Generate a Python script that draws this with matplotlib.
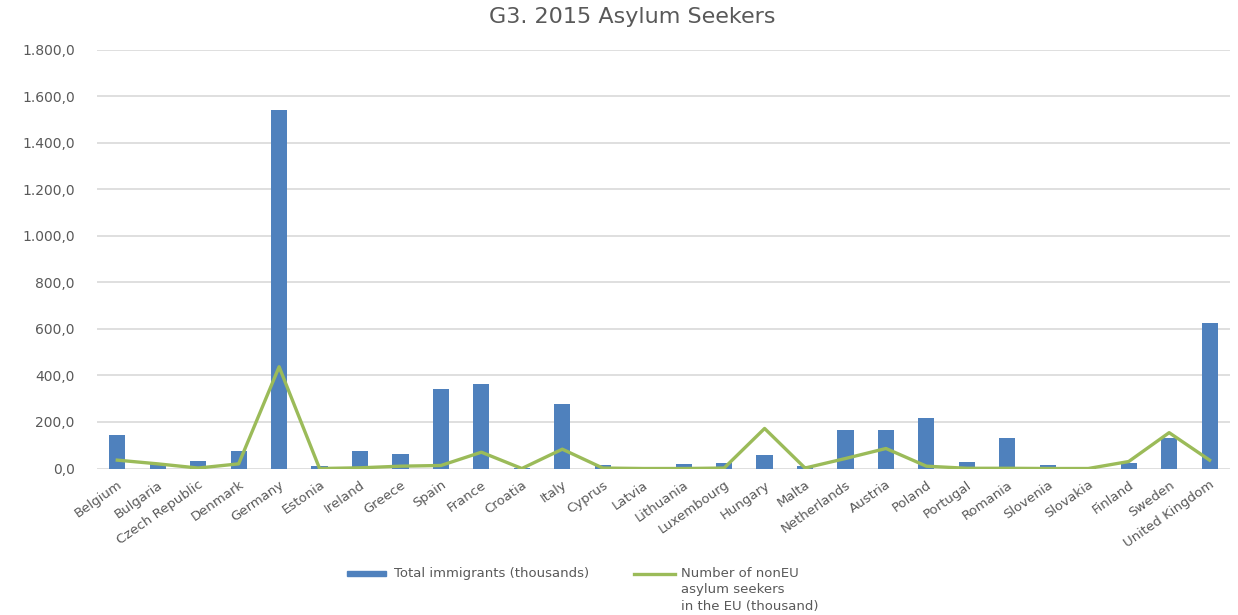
import matplotlib.pyplot as plt
import numpy as np
from matplotlib.ticker import FuncFormatter
from matplotlib.patches import Rectangle
from matplotlib.lines import Line2D

countries = ['Belgium', 'Bulgaria', 'Czech Republic', 'Denmark', 'Germany', 'Estonia',
             'Ireland', 'Greece', 'Spain', 'France', 'Croatia', 'Italy', 'Cyprus', 'Latvia',
             'Lithuania', 'Luxembourg', 'Hungary', 'Malta', 'Netherlands', 'Austria',
             'Poland', 'Portugal', 'Romania', 'Slovenia', 'Slovakia', 'Finland', 'Sweden',
             'United Kingdom']

# thousands of people
total_immigrants = [142, 22, 31, 76, 1542, 12, 76, 63, 340, 362, 1, 278, 14, 8,
                    18, 25, 58, 12, 165, 165, 215, 28, 132, 13, 7, 24, 130, 626]
asylum_seekers = [36, 20, 2, 20, 437, 0, 3, 10, 13, 70, 0, 83, 2, 0,
                  0, 2, 172, 2, 43, 86, 10, 1, 1, 0, 0, 30, 154, 36]

bar_label = 'Total immigrants (thousands)'
line_label = 'Number of nonEU\nasylum seekers\nin the EU (thousand)'

plt.rcParams['font.family'] = ['DejaVu Sans']
grey = '#595959'
blue = '#4F81BD'
green = '#9BBB59'

fig = plt.figure(figsize=(12.38, 6.15), dpi=100)
ax = fig.add_axes([0.0784, 0.2382, 0.915, 0.6813])

x = np.arange(len(countries))
ax.bar(x, total_immigrants, width=0.4, color=blue, zorder=2)
ax.plot(x, asylum_seekers, color=green, linewidth=2.4, zorder=3)

ax.set_xlim(-0.5, len(countries) - 0.5)
ax.set_ylim(0, 1800)
ax.set_yticks(np.arange(0, 1801, 200))
ax.yaxis.set_major_formatter(FuncFormatter(
    lambda v, p: f'{v:,.1f}'.replace(',', 'X').replace('.', ',').replace('X', '.')))
ax.grid(axis='y', color='#D9D9D9', linewidth=1.2, zorder=0)
for s in ax.spines.values():
    s.set_visible(False)
ax.tick_params(axis='both', length=0, colors=grey, labelsize=9.5)
ax.tick_params(axis='y', pad=16, labelsize=10)
ax.tick_params(axis='x', pad=7)
ax.set_xticks(x)
ax.set_xticklabels(countries, rotation=35, ha='right', rotation_mode='anchor')

fig.suptitle('G3. 2015 Asylum Seekers', x=0.511, y=0.988, fontsize=16, color=grey)

# legend below the plot, keys level with the first text line
H = 615.0
fig.add_artist(Rectangle((347 / 1238, 1 - 576 / H), 39 / 1238, 5 / H,
                         transform=fig.transFigure, color=blue))
fig.text(394 / 1238, 1 - 574 / H, bar_label, fontsize=9.5, color=grey, va='center')
fig.add_artist(Line2D([634 / 1238, 675 / 1238], [1 - 574 / H, 1 - 574 / H],
                      transform=fig.transFigure, color=green, linewidth=2.4))
fig.text(681 / 1238, 1 - 567 / H, line_label, fontsize=9.5, color=grey, va='top',
         linespacing=1.35)

fig.savefig('out.png', dpi=100)
